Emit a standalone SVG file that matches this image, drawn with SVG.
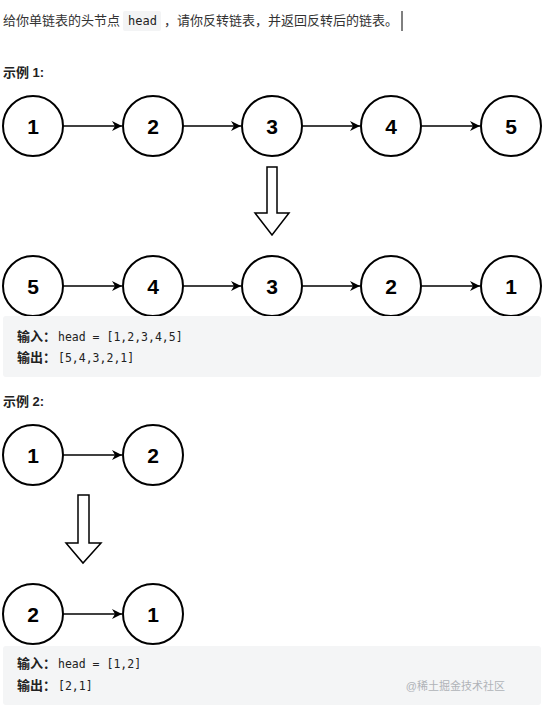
<svg xmlns="http://www.w3.org/2000/svg" width="546" height="711" viewBox="0 0 546 711">
<style>
.t{font-family:"Liberation Sans","Noto Sans CJK SC",sans-serif;font-size:13px;fill:#333}
.b{font-weight:bold;fill:#222}
.m{font-family:"DejaVu Sans Mono","Liberation Mono","Noto Sans CJK SC",monospace;font-size:11.5px;fill:#222}
.n circle{fill:#fff;stroke:#000;stroke-width:2}
.n text{font-family:"Liberation Sans",Arial,sans-serif;font-size:21px;font-weight:bold;text-anchor:middle;fill:#000}
.c line{stroke:#000;stroke-width:1.5}
.big{fill:#fff;stroke:#000;stroke-width:1.5}
.box{fill:#f4f5f6}
</style>
<defs>
<marker id="ah" viewBox="0 0 10 10" refX="10" refY="5" markerWidth="10" markerHeight="10" markerUnits="userSpaceOnUse" orient="auto">
<path d="M0,0 L10,5 L0,10 L3,5 z" fill="#000"/>
</marker>
</defs>
<rect width="546" height="711" fill="#fff"/>
<g id="header">
<rect x="123" y="11" width="38" height="20" rx="2" fill="#f3f4f5"/>
<text class="t" x="3" y="25">给你单链表的头节点</text>
<text class="m" x="128" y="25" fill="#555" style="font-size:12px">head</text>
<text class="t" x="164" y="25">，请你反转链表，并返回反转后的链表。</text>
<line x1="402" y1="11" x2="402" y2="31" stroke="#000" stroke-width="1"/>
</g>
<text class="t b" x="3" y="77">示例 1:</text>
<g class="c" id="connectors">
<line x1="63" y1="126" x2="122" y2="126" marker-end="url(#ah)"/>
<line x1="183" y1="126" x2="241" y2="126" marker-end="url(#ah)"/>
<line x1="302" y1="126" x2="360" y2="126" marker-end="url(#ah)"/>
<line x1="421" y1="126" x2="480" y2="126" marker-end="url(#ah)"/>
<line x1="63" y1="286" x2="122" y2="286" marker-end="url(#ah)"/>
<line x1="183" y1="286" x2="241" y2="286" marker-end="url(#ah)"/>
<line x1="302" y1="286" x2="360" y2="286" marker-end="url(#ah)"/>
<line x1="421" y1="286" x2="480" y2="286" marker-end="url(#ah)"/>
<line x1="63" y1="455" x2="122" y2="455" marker-end="url(#ah)"/>
<line x1="63" y1="614" x2="122" y2="614" marker-end="url(#ah)"/>
</g>
<g class="n" id="e1-1"><circle cx="33" cy="126" r="30"/><text x="33" y="134">1</text></g>
<g class="n" id="e1-2"><circle cx="153" cy="126" r="30"/><text x="153" y="134">2</text></g>
<g class="n" id="e1-3"><circle cx="272" cy="126" r="30"/><text x="272" y="134">3</text></g>
<g class="n" id="e1-4"><circle cx="391" cy="126" r="30"/><text x="391" y="134">4</text></g>
<g class="n" id="e1-5"><circle cx="511" cy="126" r="30"/><text x="511" y="134">5</text></g>
<path id="down1" class="big" d="M267,167 H277 V213 H289 L272,235 L255,213 H267 Z"/>
<g class="n" id="r1-5"><circle cx="33" cy="286" r="30"/><text x="33" y="294">5</text></g>
<g class="n" id="r1-4"><circle cx="153" cy="286" r="30"/><text x="153" y="294">4</text></g>
<g class="n" id="r1-3"><circle cx="272" cy="286" r="30"/><text x="272" y="294">3</text></g>
<g class="n" id="r1-2"><circle cx="391" cy="286" r="30"/><text x="391" y="294">2</text></g>
<g class="n" id="r1-1"><circle cx="511" cy="286" r="30"/><text x="511" y="294">1</text></g>
<g id="box1">
<rect class="box" x="3" y="316" width="538" height="61" rx="3"/>
<text class="t b" x="17" y="341" style="font-size:13px">输入：</text>
<text class="m" x="58" y="341">head = [1,2,3,4,5]</text>
<text class="t b" x="17" y="362" style="font-size:13px">输出：</text>
<text class="m" x="58" y="362">[5,4,3,2,1]</text>
</g>
<text class="t b" x="3" y="406">示例 2:</text>
<g class="n" id="e2-1"><circle cx="33" cy="455" r="30"/><text x="33" y="463">1</text></g>
<g class="n" id="e2-2"><circle cx="153" cy="455" r="30"/><text x="153" y="463">2</text></g>
<path id="down2" class="big" d="M78,495 H89 V543 H101 L83,563 L66,543 H78 Z"/>
<g class="n" id="r2-2"><circle cx="33" cy="614" r="30"/><text x="33" y="622">2</text></g>
<g class="n" id="r2-1"><circle cx="153" cy="614" r="30"/><text x="153" y="622">1</text></g>
<g id="box2">
<rect class="box" x="3" y="646" width="538" height="59" rx="3"/>
<text class="t b" x="17" y="668" style="font-size:13px">输入：</text>
<text class="m" x="58" y="668">head = [1,2]</text>
<text class="t b" x="17" y="690" style="font-size:13px">输出：</text>
<text class="m" x="58" y="690">[2,1]</text>
<text x="505" y="690" text-anchor="end" style="font-family:'Liberation Sans','Noto Sans CJK SC',sans-serif;font-size:11px;fill:#b0b3b8">@稀土掘金技术社区</text>
</g>
</svg>
